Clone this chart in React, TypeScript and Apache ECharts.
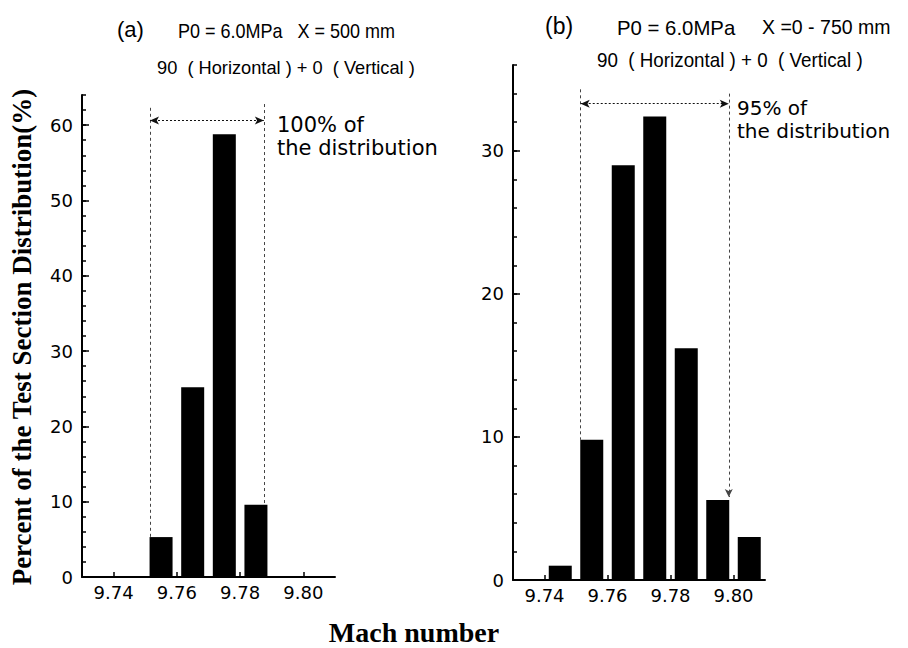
import React, { useEffect, useRef } from "react";
import * as echarts from "echarts";

// ---- data ----
const machTicks = [9.74, 9.76, 9.78, 9.8];
const binsA = [9.755, 9.765, 9.775, 9.785];
const valuesA = [5.3, 25.2, 58.8, 9.6];
const binsB = [9.745, 9.755, 9.765, 9.775, 9.785, 9.795, 9.805];
const valuesB = [1.0, 9.8, 29.0, 32.4, 16.2, 5.6, 3.0];
const majorTicksA = [0, 10, 20, 30, 40, 50, 60];
const majorTicksB = [0, 10, 20, 30];
// annotation spans (Mach) and heights (%)
const spanA = [9.7515, 9.7875];
const spanB = [9.7515, 9.7985];
const spanTopA = [62.3, 62.8];
const spanArrowA = 60.6;
const spanBottomA = [5.3, 9.6];
const spanTopB = [34.3, 34.0];
const spanArrowB = 33.3;
const spanBottomB = [9.8, 5.8];

const titleFont = "'Liberation Sans', Arial, sans-serif";
const tickFont = "'DejaVu Sans', sans-serif";
const noteFont = "'DejaVu Sans', sans-serif";
const serifFont = "'Liberation Serif', 'Times New Roman', serif";

function xAxisCfg(gridIndex: number) {
  return {
    type: "value",
    gridIndex,
    min: 9.73,
    max: 9.81,
    axisLine: { show: true, lineStyle: { color: "#000", width: 2 } },
    axisTick: { show: true, inside: true, length: 5, customValues: machTicks, lineStyle: { color: "#000", width: 1.5 } },
    axisLabel: {
      show: true,
      customValues: machTicks,
      formatter: (v: number) => v.toFixed(2),
      color: "#000",
      fontSize: 18,
      fontFamily: tickFont,
      margin: 6,
    },
    splitLine: { show: false },
  };
}

function yAxisCfg(gridIndex: number, max: number) {
  return {
    type: "value",
    gridIndex,
    position: "left",
    min: 0,
    max,
    interval: 2,
    axisLine: { show: true, lineStyle: { color: "#000", width: 2 } },
    axisTick: { show: true, inside: true, length: 4, lineStyle: { color: "#000", width: 1.5 } },
    axisLabel: {
      formatter: (v: number) => (v % 10 === 0 ? String(v) : ""),
      color: "#000",
      fontSize: 18,
      fontFamily: tickFont,
      margin: 9,
    },
    splitLine: { show: false },
  };
}

function majorTickAxis(gridIndex: number, max: number, ticks: number[]) {
  return {
    type: "value",
    gridIndex,
    position: "left",
    min: 0,
    max,
    axisLine: { show: false },
    axisTick: { show: true, inside: true, length: 7, customValues: ticks, lineStyle: { color: "#000", width: 1.5 } },
    axisLabel: { show: false },
    splitLine: { show: false },
  };
}

const dotted = { color: "#444", width: 1, type: [3, 3] as number[] };

function spanMarks(span: number[], tops: number[], bottoms: number[], arrowY: number, downArrowRight: boolean) {
  return {
    silent: true,
    symbol: ["none", "none"],
    label: { show: false },
    lineStyle: dotted,
    data: [
      [
        { coord: [span[0], tops[0]], symbol: "none" },
        { coord: [span[0], bottoms[0]], symbol: "none" },
      ],
      [
        { coord: [span[1], tops[1]], symbol: "none" },
        { coord: [span[1], bottoms[1]], symbol: downArrowRight ? "arrow" : "none", symbolSize: [6, 8] },
      ],
      [
        { coord: [span[0], arrowY], symbol: "arrow", symbolSize: [6, 9], lineStyle: { color: "#111", width: 1, type: [2, 2] } },
        { coord: [span[1], arrowY], symbol: "arrow", symbolSize: [6, 9], lineStyle: { color: "#111", width: 1, type: [2, 2] } },
      ],
    ],
  };
}

function label(text: string, x: number, y: number, size: number, scaleX: number) {
  return {
    type: "text",
    x,
    y,
    scaleX,
    style: { text, font: `${size}px ${titleFont}`, fill: "#000", verticalAlign: "middle" },
  };
}

export default function App() {
  const ref = useRef<HTMLDivElement>(null);
  useEffect(() => {
    if (!ref.current) return;
    const chart = echarts.init(ref.current, null, { renderer: "svg" });
    const option: any = {
      animation: false,
      backgroundColor: "#fff",
      grid: [
        { left: 82, top: 95, width: 253, height: 482 },
        { left: 513, top: 65, width: 252, height: 515 },
      ],
      xAxis: [xAxisCfg(0), xAxisCfg(1)],
      yAxis: [
        yAxisCfg(0, 64),
        yAxisCfg(1, 36),
        majorTickAxis(0, 64, majorTicksA),
        majorTickAxis(1, 36, majorTicksB),
      ],
      series: [
        {
          type: "bar",
          xAxisIndex: 0,
          yAxisIndex: 0,
          barWidth: 23,
          itemStyle: { color: "#000" },
          data: binsA.map((b, i) => [b, valuesA[i]]),
          markLine: spanMarks(spanA, spanTopA, spanBottomA, spanArrowA, false),
        },
        {
          type: "bar",
          xAxisIndex: 1,
          yAxisIndex: 1,
          barWidth: 23,
          itemStyle: { color: "#000" },
          data: binsB.map((b, i) => [b, valuesB[i]]),
          markLine: spanMarks(spanB, spanTopB, spanBottomB, spanArrowB, true),
        },
      ],
      graphic: [
        label("(a)", 117, 29, 22, 1),
        label("P0 = 6.0MPa   X = 500 mm", 178, 31, 20, 0.9),
        label("90  ( Horizontal ) + 0  ( Vertical )", 157, 67, 19, 0.96),
        label("(b)", 545, 26, 23, 1),
        label("P0 = 6.0MPa", 617, 27, 21, 0.97),
        label("X =0 - 750 mm", 762, 27, 21, 0.93),
        label("90  ( Horizontal ) + 0  ( Vertical )", 597, 60, 20, 0.94),
        { type: "text", x: 277, y: 113, style: { text: "100% of\nthe distribution", font: `21px ${noteFont}`, lineHeight: 23, fill: "#000", verticalAlign: "top" } },
        { type: "text", x: 737, y: 96, style: { text: "95% of\nthe distribution", font: `20px ${noteFont}`, lineHeight: 23, fill: "#000", verticalAlign: "top" } },
        {
          type: "text",
          x: 22,
          y: 337,
          rotation: Math.PI / 2,
          style: { text: "Percent of the Test Section Distribution(%)", font: `bold 27px ${serifFont}`, fill: "#000", align: "center", verticalAlign: "middle" },
        },
        { type: "text", x: 414, y: 632, style: { text: "Mach number", font: `bold 28px ${serifFont}`, fill: "#000", align: "center", verticalAlign: "middle" } },
      ],
    };
    chart.setOption(option);
    return () => chart.dispose();
  }, []);
  return <div ref={ref} style={{ position: "fixed", left: 0, top: 0, width: 908, height: 648, background: "#fff" }} />;
}
